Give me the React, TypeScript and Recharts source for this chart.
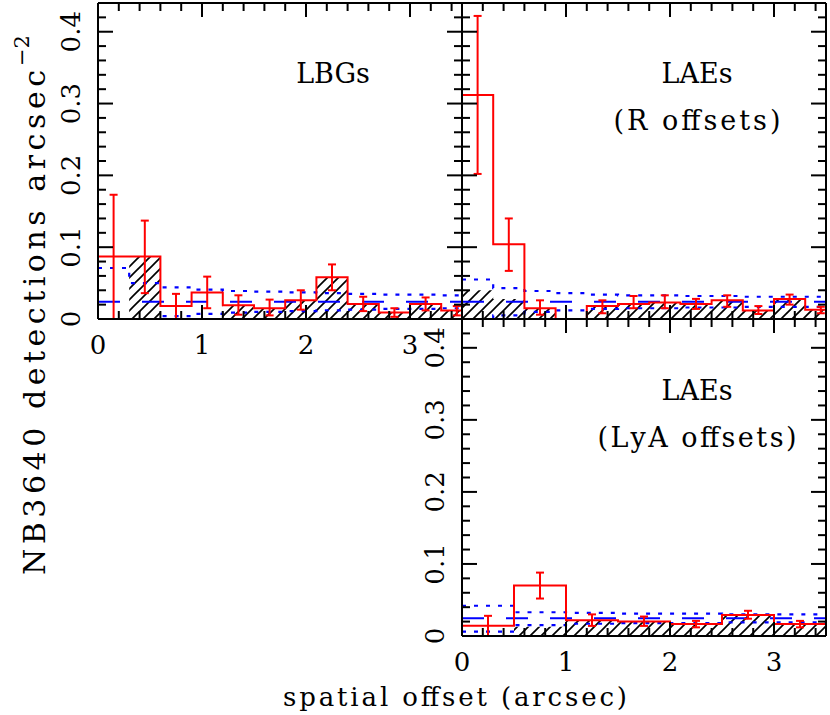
import React from 'react';
import { ComposedChart, Line, Area, Scatter, ErrorBar, XAxis, YAxis } from 'recharts';

const W = 830;
const H = 715;
const SERIF = '"DejaVu Serif", "Liberation Serif", serif';
const RED = '#ff0000';
const BLUE = '#0000ff';

// bin edges (arcsec)
const EDGES_R = [0, 0.3, 0.6, 0.9, 1.2, 1.5, 1.8, 2.1, 2.4, 2.7, 3.0, 3.3, 3.6];
const EDGES_LYA = [0, 0.5, 1.0, 1.5, 2.0, 2.5, 3.0, 3.5];

const X_TICKS = [0, 0.2, 0.4, 0.6, 0.8, 1, 1.2, 1.4, 1.6, 1.8, 2, 2.2, 2.4, 2.6, 2.8, 3, 3.2, 3.4];
const Y_TICKS = [0, 0.02, 0.04, 0.06, 0.08, 0.1, 0.12, 0.14, 0.16, 0.18, 0.2, 0.22, 0.24, 0.26, 0.28, 0.3, 0.32, 0.34, 0.36, 0.38, 0.4, 0.42];

// LBGs
const lbgObs = [0.087, 0.087, 0.018, 0.037, 0.019, 0.015, 0.026, 0.058, 0.021, 0.009, 0.021, 0.012];
const lbgHi = [0.173, 0.137, 0.035, 0.059, 0.033, 0.027, 0.040, 0.076, 0.031, 0.015, 0.030, 0.018];
const lbgLo = [0, 0.036, 0, 0.015, 0.006, 0.005, 0.013, 0.040, 0.011, 0.003, 0.012, 0.005];
const lbgHatch = [0, 0.087, 0, 0, 0.019, 0.015, 0.026, 0.058, 0.021, 0.009, 0.021, 0.012];
const lbgExp = [0.024, 0.024, 0.024, 0.024, 0.024, 0.024, 0.024, 0.024, 0.024, 0.024, 0.024, 0.024];
const lbgUp = [0.071, 0.050, 0.044, 0.041, 0.039, 0.038, 0.037, 0.036, 0.035, 0.034, 0.034, 0.033];
const lbgDn = [-0.023, -0.002, 0.004, 0.007, 0.009, 0.010, 0.011, 0.012, 0.013, 0.014, 0.014, 0.015];

// LAEs, R offsets
const laeRObs = [0.312, 0.104, 0.015, 0, 0.018, 0.021, 0.023, 0.021, 0.026, 0.012, 0.028, 0.013];
const laeRHi = [0.422, 0.140, 0.026, null, 0.026, 0.032, 0.033, 0.028, 0.033, 0.018, 0.034, 0.017];
const laeRLo = [0.202, 0.067, 0.006, null, 0.008, 0.015, 0.015, 0.014, 0.017, 0.007, 0.020, 0.008];
const laeRHatch = [0.040, 0.028, 0.015, 0, 0.018, 0.021, 0.023, 0.021, 0.026, 0.012, 0.028, 0.013];
const laeRExp = [0.024, 0.024, 0.024, 0.024, 0.024, 0.024, 0.024, 0.024, 0.024, 0.024, 0.024, 0.024];
const laeRUp = [0.055, 0.043, 0.039, 0.036, 0.034, 0.033, 0.033, 0.032, 0.032, 0.031, 0.031, 0.031];
const laeRDn = [-0.007, 0.005, 0.010, 0.012, 0.014, 0.015, 0.015, 0.016, 0.016, 0.017, 0.017, 0.017];

// LAEs, LyA offsets
const laeLObs = [0.0144, 0.070, 0.022, 0.020, 0.0167, 0.029, 0.0167];
const laeLHi = [0.028, 0.088, 0.030, 0.027, 0.021, 0.035, 0.021];
const laeLLo = [0, 0.052, 0.014, 0.014, 0.012, 0.024, 0.012];
const laeLHatch = [0, 0.013, 0.022, 0.020, 0.0167, 0.029, 0.0167];
const laeLExp = [0.0245, 0.0245, 0.0245, 0.0245, 0.0245, 0.0245, 0.0245];
const laeLUp = [0.042, 0.033, 0.032, 0.031, 0.031, 0.030, 0.030];
const laeLDn = [0.006, 0.015, 0.017, 0.018, 0.018, 0.019, 0.019];

type Row = Record<string, number>;

// one row per bin edge, last edge repeats the last bin (for stepAfter)
function stepRows(edges: number[], series: Record<string, number[]>): Row[] {
  return edges.map((x, i) => {
    const k = Math.min(i, edges.length - 2);
    const row: Row = { x };
    for (const [name, vals] of Object.entries(series)) row[name] = vals[k];
    return row;
  });
}

function errRows(edges: number[], obs: number[], lo: (number | null)[], hi: (number | null)[]) {
  const out: Array<{ x: number; y: number; err: [number, number] }> = [];
  obs.forEach((v, i) => {
    const l = lo[i];
    const h = hi[i];
    if (l == null || h == null) return;
    out.push({ x: (edges[i] + edges[i + 1]) / 2, y: v, err: [v - l, h - v] });
  });
  return out;
}

const isInt = (v: number, scale: number) => Math.abs(v * scale - Math.round(v * scale)) < 1e-6;

function xTick(side: 'bottom' | 'top', labels: boolean) {
  return (p: any) => {
    const v = p.payload.value as number;
    const major = isInt(v, 1);
    const len = major ? 14 : 8;
    const dir = side === 'bottom' ? -1 : 1;
    return (
      <g>
        <line x1={p.x} x2={p.x} y1={p.y} y2={p.y + dir * len} stroke="#000" strokeWidth={2} />
        {labels && major && (
          <text x={p.x} y={p.y + 35} textAnchor="middle" fontSize={26} fontFamily={SERIF} fill="#000">
            {String(v)}
          </text>
        )}
      </g>
    );
  };
}

function yTick(side: 'left' | 'right', labels: boolean) {
  return (p: any) => {
    const v = p.payload.value as number;
    const major = isInt(v, 10);
    const len = major ? 15 : 8;
    const dir = side === 'left' ? 1 : -1;
    const bx = p.x - 18;
    return (
      <g>
        <line x1={p.x} x2={p.x + dir * len} y1={p.y} y2={p.y} stroke="#000" strokeWidth={2} />
        {labels && major && (
          <text
            x={bx}
            y={p.y}
            transform={`rotate(-90, ${bx}, ${p.y})`}
            textAnchor="middle"
            fontSize={26}
            fontFamily={SERIF}
            fill="#000"
          >
            {v === 0 ? '0' : v.toFixed(1)}
          </text>
        )}
      </g>
    );
  };
}

type PanelProps = {
  id: string;
  top: number;
  left: number;
  width: number;
  height: number;
  rows: Row[];
  errs: Array<{ x: number; y: number; err: [number, number] }>;
  xLabels: boolean;
  yLabels: boolean;
};

function Panel({ id, top, left, width, height, rows, errs, xLabels, yLabels }: PanelProps) {
  const axisLine = { stroke: '#000', strokeWidth: 2 };
  const common = { xAxisId: 'b', yAxisId: 'l', isAnimationActive: false } as const;
  // axes are 1px thick boxes (0 would hide them), so margins are trimmed by 1
  return (
    <div style={{ position: 'absolute', left: 0, top: 0 }}>
      <ComposedChart
        width={W}
        height={H}
        data={rows}
        margin={{ top: top - 1, left: left - 1, right: W - left - width - 1, bottom: H - top - height - 1 }}
      >
        <defs>
          <pattern id={id} patternUnits="userSpaceOnUse" width={11} height={11}>
            <line x1={0} y1={11} x2={11} y2={0} stroke="#000" strokeWidth={1.7} />
            <line x1={-2} y1={2} x2={2} y2={-2} stroke="#000" strokeWidth={1.7} />
            <line x1={9} y1={13} x2={13} y2={9} stroke="#000" strokeWidth={1.7} />
          </pattern>
        </defs>
        <XAxis
          xAxisId="b"
          type="number"
          dataKey="x"
          domain={[0, 3.5]}
          allowDataOverflow
          ticks={X_TICKS}
          interval={0}
          height={1}
          tickSize={0}
          tickMargin={0}
          tickLine={false}
          axisLine={axisLine}
          tick={xTick('bottom', xLabels)}
        />
        <XAxis
          xAxisId="t"
          orientation="top"
          type="number"
          dataKey="x"
          domain={[0, 3.5]}
          allowDataOverflow
          ticks={X_TICKS}
          interval={0}
          height={1}
          tickSize={0}
          tickMargin={0}
          tickLine={false}
          axisLine={axisLine}
          tick={xTick('top', false)}
        />
        <YAxis
          yAxisId="l"
          type="number"
          domain={[0, 0.44]}
          allowDataOverflow
          ticks={Y_TICKS}
          interval={0}
          width={1}
          tickSize={0}
          tickMargin={0}
          tickLine={false}
          axisLine={axisLine}
          tick={yTick('left', yLabels)}
        />
        <YAxis
          yAxisId="r"
          orientation="right"
          type="number"
          domain={[0, 0.44]}
          allowDataOverflow
          ticks={Y_TICKS}
          interval={0}
          width={1}
          tickSize={0}
          tickMargin={0}
          tickLine={false}
          axisLine={axisLine}
          tick={yTick('right', false)}
        />
        <Line xAxisId="t" yAxisId="r" dataKey="exp" stroke="none" dot={false} isAnimationActive={false} />
        <Area
          {...common}
          type="stepAfter"
          dataKey="hatch"
          stroke="none"
          fill={`url(#${id})`}
          fillOpacity={1}
          dot={false}
          activeDot={false}
        />
        <Line {...common} type="stepAfter" dataKey="up" stroke={BLUE} strokeWidth={2.2} strokeDasharray="4 8" dot={false} />
        <Line {...common} type="stepAfter" dataKey="dn" stroke={BLUE} strokeWidth={2.2} strokeDasharray="4 8" dot={false} />
        <Line {...common} type="stepAfter" dataKey="exp" stroke={BLUE} strokeWidth={2} strokeDasharray="22 22" dot={false} />
        <Line {...common} type="stepAfter" dataKey="obs" stroke={RED} strokeWidth={2} dot={false} />
        <Scatter {...common} data={errs} dataKey="y" shape={() => <g />}>
          <ErrorBar dataKey="err" direction="y" width={4} stroke={RED} strokeWidth={2} />
        </Scatter>
      </ComposedChart>
    </div>
  );
}

export default function App() {
  const lbgRows = stepRows(EDGES_R, { obs: lbgObs, hatch: lbgHatch, exp: lbgExp, up: lbgUp, dn: lbgDn });
  const laeRRows = stepRows(EDGES_R, { obs: laeRObs, hatch: laeRHatch, exp: laeRExp, up: laeRUp, dn: laeRDn });
  const laeLRows = stepRows(EDGES_LYA, { obs: laeLObs, hatch: laeLHatch, exp: laeLExp, up: laeLUp, dn: laeLDn });

  const textStyle = { fontFamily: SERIF, fill: '#000' };

  return (
    <div style={{ position: 'absolute', left: 0, top: 0, width: W, height: H, background: '#fff' }}>
      <Panel id="hatchA" top={3} left={98} width={364} height={316} rows={lbgRows}
        errs={errRows(EDGES_R, lbgObs, lbgLo, lbgHi)} xLabels yLabels />
      <Panel id="hatchB" top={3} left={462} width={364} height={316} rows={laeRRows}
        errs={errRows(EDGES_R, laeRObs, laeRLo, laeRHi)} xLabels={false} yLabels={false} />
      <Panel id="hatchC" top={319} left={462} width={364} height={317} rows={laeLRows}
        errs={errRows(EDGES_LYA, laeLObs, laeLLo, laeLHi)} xLabels yLabels />
      <svg width={W} height={H} style={{ position: 'absolute', left: 0, top: 0, pointerEvents: 'none' }}>
        <text x={333} y={83} textAnchor="middle" fontSize={27} {...textStyle}>LBGs</text>
        <text x={697} y={83} textAnchor="middle" fontSize={27} {...textStyle}>LAEs</text>
        <text x={697} y={130} textAnchor="middle" fontSize={27} textLength={167} lengthAdjust="spacing" {...textStyle}>(R offsets)</text>
        <text x={697} y={400} textAnchor="middle" fontSize={27} {...textStyle}>LAEs</text>
        <text x={697} y={447} textAnchor="middle" fontSize={27} textLength={199} lengthAdjust="spacing" {...textStyle}>(LyA offsets)</text>
        <text x={455} y={706} textAnchor="middle" fontSize={26} textLength={344} lengthAdjust="spacing" {...textStyle}>spatial offset (arcsec)</text>
        <text x={45} y={575} transform="rotate(-90, 45, 575)" fontSize={30} textLength={505} lengthAdjust="spacing" {...textStyle}>
          NB3640 detections arcsec
        </text>
        <text x={29} y={66} transform="rotate(-90, 29, 66)" fontSize={21} {...textStyle}>−2</text>
      </svg>
    </div>
  );
}
